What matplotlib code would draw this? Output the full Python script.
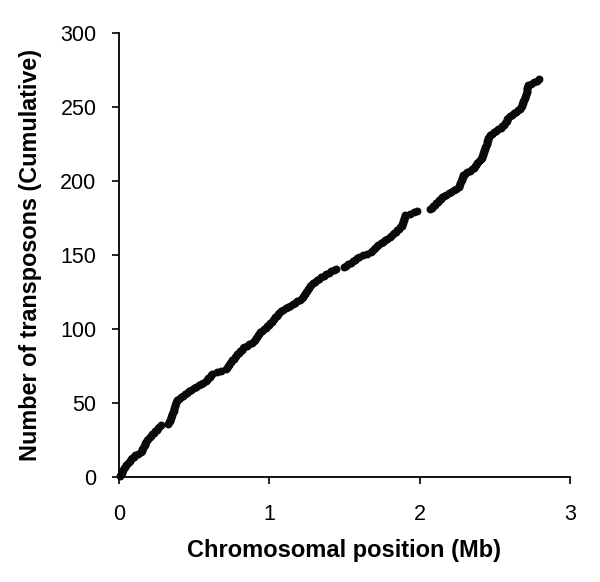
import matplotlib.pyplot as plt
import numpy as np

plt.rcParams['font.family'] = ['Liberation Sans', 'DejaVu Sans']

# chromosomal position (Mb) of each transposon, in order along the chromosome
positions_mb = [
    0.008, 0.012, 0.018, 0.022, 0.030, 0.035, 0.041, 0.046,
    0.055, 0.066, 0.072, 0.082, 0.090, 0.098, 0.110, 0.130, 0.150,
    0.153, 0.157, 0.162, 0.166, 0.171, 0.176, 0.181, 0.186,
    0.196, 0.205, 0.214, 0.222, 0.232, 0.243, 0.252, 0.260, 0.270, 0.280,
    0.330, 0.334, 0.338, 0.342, 0.345, 0.349, 0.352, 0.356, 0.360, 0.364,
    0.367, 0.370, 0.373, 0.376, 0.379, 0.382, 0.385,
    0.398, 0.412, 0.425, 0.440, 0.453, 0.467, 0.480,
    0.497, 0.513, 0.530, 0.547, 0.563, 0.580,
    0.588, 0.596, 0.604, 0.612, 0.620, 0.650, 0.680, 0.710,
    0.718, 0.725, 0.733, 0.740, 0.748, 0.755, 0.763, 0.770,
    0.779, 0.788, 0.798, 0.807, 0.816, 0.826, 0.835,
    0.851, 0.867, 0.884, 0.900,
    0.907, 0.913, 0.920, 0.927, 0.933, 0.940,
    0.952, 0.964, 0.976, 0.988, 1.000,
    1.008, 1.016, 1.024, 1.033, 1.041, 1.049, 1.057, 1.065,
    1.080, 1.095, 1.110, 1.125, 1.140,
    1.155, 1.171, 1.186, 1.202, 1.217,
    1.224, 1.231, 1.238, 1.245, 1.252, 1.259, 1.266, 1.273, 1.280,
    1.293, 1.306, 1.319, 1.332, 1.345,
    1.362, 1.379, 1.396, 1.412, 1.429, 1.446,
    1.497, 1.512, 1.526, 1.541, 1.556, 1.571, 1.585, 1.600,
    1.625, 1.650, 1.675,
    1.685, 1.696, 1.706, 1.716, 1.726,
    1.741, 1.756, 1.770, 1.785, 1.800,
    1.810, 1.820, 1.830, 1.840, 1.850, 1.860, 1.870, 1.880,
    1.884, 1.887, 1.891, 1.894, 1.898, 1.901, 1.905,
    1.935, 1.960, 1.985,
    2.070, 2.080, 2.090, 2.100, 2.110, 2.120, 2.130, 2.140, 2.150, 2.160,
    2.177, 2.193, 2.210, 2.227, 2.243, 2.260,
    2.264, 2.268, 2.271, 2.275, 2.279, 2.283, 2.286, 2.290,
    2.304, 2.318, 2.332, 2.346, 2.360,
    2.368, 2.375, 2.383, 2.391, 2.399, 2.406, 2.414,
    2.417, 2.421, 2.424, 2.428, 2.431, 2.434, 2.438, 2.441,
    2.445, 2.448, 2.451, 2.455, 2.458, 2.462, 2.465,
    2.480, 2.494, 2.507, 2.520,
    2.540, 2.550, 2.558, 2.565, 2.572, 2.578, 2.584, 2.590,
    2.603, 2.617, 2.630, 2.643, 2.657, 2.670,
    2.674, 2.678, 2.682, 2.686, 2.690, 2.694, 2.698, 2.702, 2.706, 2.710,
    2.712, 2.713, 2.715, 2.717, 2.718, 2.720,
    2.740, 2.760, 2.778, 2.796,
]

x_ticks = [0, 1, 2, 3]
y_ticks = [0, 50, 100, 150, 200, 250, 300]

# cumulative count: the i-th transposon along the chromosome
cumulative = np.arange(1, len(positions_mb) + 1)

fig = plt.figure(figsize=(6, 5.82), dpi=100)
ax = fig.add_axes([0.198, 0.180, 0.752, 0.763])

ax.plot(positions_mb, cumulative, 'o', color='#0a0a0a', markersize=5.7,
        markeredgewidth=0, clip_on=False)

ax.set_xlim(0, 3)
ax.set_ylim(0, 300)
ax.set_xticks(x_ticks)
ax.set_yticks(y_ticks)
ax.tick_params(direction='out', length=5, width=1.2, labelsize=15.5,
               colors='black')
ax.tick_params(axis='y', pad=11)
ax.tick_params(axis='x', pad=14)

for side in ['top', 'right']:
    ax.spines[side].set_visible(False)
for side in ['left', 'bottom']:
    ax.spines[side].set_linewidth(1.3)
    ax.spines[side].set_color('black')

ax.set_xlabel('Chromosomal position (Mb)', fontsize=17, fontweight='bold',
              labelpad=10)
ax.set_ylabel('Number of transposons (Cumulative)', fontsize=16.8,
              fontweight='bold', labelpad=13)

fig.savefig('out.png', dpi=100)
